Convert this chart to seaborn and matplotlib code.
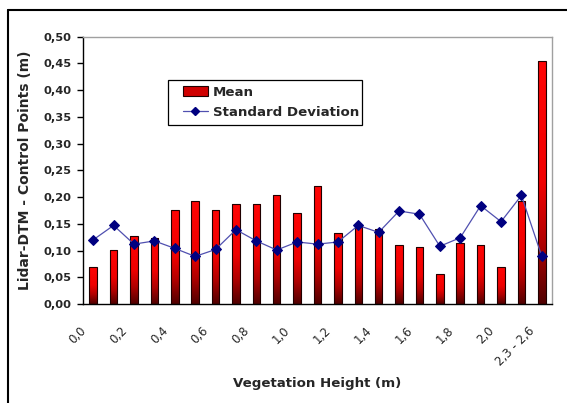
import numpy as np
import pandas as pd
import matplotlib
matplotlib.use("Agg")
import matplotlib.pyplot as plt
import matplotlib.transforms as mtransforms
import seaborn as sns
from matplotlib.colors import LinearSegmentedColormap
from matplotlib.lines import Line2D
from matplotlib.patches import Patch, Rectangle

categories = ["0,0", "0,1", "0,2", "0,3", "0,4", "0,5", "0,6", "0,7", "0,8", "0,9",
              "1,0", "1,1", "1,2", "1,3", "1,4", "1,5", "1,6", "1,7", "1,8", "1,9",
              "2,0", "2,1", "2,3 - 2,6"]
mean_vals = [0.070, 0.101, 0.128, 0.124, 0.176, 0.193, 0.176, 0.187, 0.187, 0.203,
             0.170, 0.220, 0.133, 0.147, 0.141, 0.110, 0.106, 0.056, 0.114, 0.110,
             0.069, 0.192, 0.455]
std_vals = [0.120, 0.147, 0.112, 0.118, 0.104, 0.089, 0.102, 0.139, 0.118, 0.101,
            0.116, 0.112, 0.116, 0.147, 0.134, 0.174, 0.168, 0.108, 0.124, 0.184,
            0.154, 0.203, 0.089]
y_ticks = [0.00, 0.05, 0.10, 0.15, 0.20, 0.25, 0.30, 0.35, 0.40, 0.45, 0.50]

df = pd.DataFrame({"cat": categories, "mean": mean_vals, "std": std_vals})
n = len(categories)

sns.set_style("white")
plt.rcParams["font.family"] = ["DejaVu Sans"]

W, H = 567, 403
fig = plt.figure(figsize=(W / 100, H / 100), dpi=100)
fig.patch.set_facecolor("white")
AX_L, AX_R, AX_T, AX_B = 83, 552, 36.7, 304
ax = fig.add_axes([AX_L / W, 1 - AX_B / H, (AX_R - AX_L) / W, (AX_B - AX_T) / H])

sns.barplot(data=df, x="cat", y="mean", ax=ax, width=0.37, color="#ff0000",
            edgecolor="#200000", linewidth=0.8, zorder=2)

cmap = LinearSegmentedColormap.from_list(
    "redgrad", [(0.0, "#500000"), (0.25, "#b00000"), (0.5, "#f00000"), (1.0, "#ff0505")])
grad = np.linspace(0, 1, 256).reshape(-1, 1)
for p in list(ax.patches):
    x0, y0 = p.get_x(), p.get_y()
    w, h = p.get_width(), p.get_height()
    im = ax.imshow(grad, cmap=cmap, origin="lower", aspect="auto",
                   extent=[x0, x0 + w, y0, y0 + h], zorder=2.5, interpolation="bilinear")
    im.set_clip_path(p)
    p.set_facecolor("none")
    p.set_zorder(3)

sns.lineplot(x=np.arange(n), y=df["std"].values, ax=ax, color="#5050b0", linewidth=0.9,
             marker="D", markersize=5, markerfacecolor="#000080", markeredgecolor="#000080",
             zorder=4, legend=False)

ax.set_xlim(-0.5, n - 0.5)
ax.set_ylim(0, 0.5)
ax.set_yticks(y_ticks)
ax.set_yticklabels([f"{v:.2f}".replace(".", ",") for v in y_ticks],
                   fontsize=8.2, fontweight="bold")

ax.set_xticks(np.arange(-0.5, n, 1.0), minor=True)
ax.set_xticks(np.arange(0, n, 2))
ax.set_xticklabels([categories[i] for i in range(0, n, 2)], rotation=45, ha="right",
                   va="center", rotation_mode="anchor", fontsize=8.5)
ax.tick_params(axis="x", which="major", length=0, pad=18)
ax.tick_params(axis="x", which="minor", length=6, width=1, direction="inout", color="black")
ax.tick_params(axis="y", length=4, width=1, direction="out", color="black", left=True, pad=4.5)
shift = mtransforms.ScaledTranslation(-9 / 100, 0, fig.dpi_scale_trans)
for lbl in ax.get_xticklabels():
    lbl.set_transform(lbl.get_transform() + shift)

for s in ["left", "bottom"]:
    ax.spines[s].set_color("black")
    ax.spines[s].set_linewidth(1.0)
for s in ["top", "right"]:
    ax.spines[s].set_color("#a0a0a0")
    ax.spines[s].set_linewidth(1.0)
    ax.spines[s].set_visible(True)

ax.set_xlabel("Vegetation Height (m)", fontsize=9.6, fontweight="bold", labelpad=6)
ax.set_ylabel("Lidar-DTM - Control Points (m)", fontsize=10, fontweight="bold", labelpad=8)

def ax_frac(px, py):
    return (px - AX_L) / (AX_R - AX_L), (AX_B - py) / (AX_B - AX_T)

bx0, by0 = ax_frac(167.7, 125.3)
bx1, by1 = ax_frac(362.3, 80)
ax.add_patch(Rectangle((bx0, by0), bx1 - bx0, by1 - by0, transform=ax.transAxes,
                       facecolor="white", edgecolor="black", linewidth=0.9, zorder=5))

handles = [Patch(facecolor="#d00000", edgecolor="#200000", linewidth=0.8, label="Mean"),
           Line2D([0], [0], color="#5050b0", lw=0.9, marker="D", markersize=4,
                  markerfacecolor="#000080", markeredgecolor="#000080",
                  label="Standard Deviation")]
leg = ax.legend(handles=handles, loc="upper left",
                bbox_to_anchor=ax_frac(183, 85.5),
                frameon=False, prop={"weight": "bold", "size": 9.6},
                handlelength=1.85, handleheight=0.75, borderpad=0, borderaxespad=0,
                labelspacing=0.55, handletextpad=0.4)
leg.set_zorder(6)

fig.add_artist(Line2D([8 / W, 8 / W], [0, 1 - 10 / H], color="black", lw=1.5,
                      transform=fig.transFigure))
fig.add_artist(Line2D([8 / W, 1], [1 - 10 / H, 1 - 10 / H], color="black", lw=1.5,
                      transform=fig.transFigure))

fig.savefig("out.png", dpi=100)
